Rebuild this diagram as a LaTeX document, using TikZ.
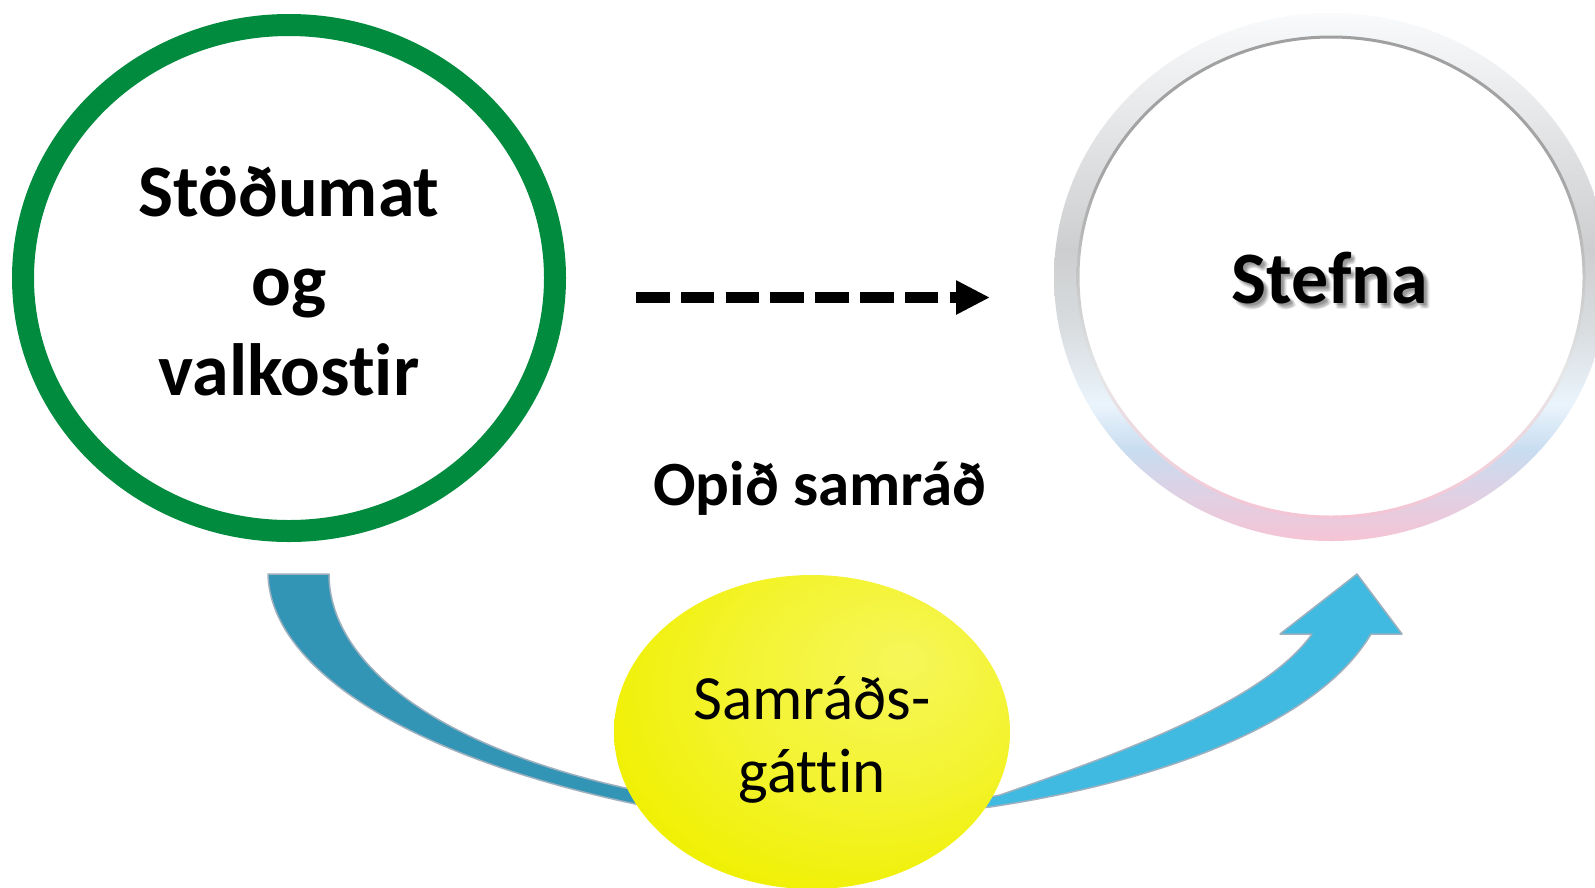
\documentclass[tikz,border=0pt]{standalone}
\usepackage{fontspec}
\setmainfont{Carlito}[Ligatures={NoCommon}]
\usetikzlibrary{shapes.geometric,arrows.meta}
\definecolor{greenring}{RGB}{0,139,62}
\definecolor{bandL}{RGB}{50,149,181}
\definecolor{bandR}{RGB}{64,186,224}
\definecolor{bandedge}{RGB}{158,176,190}
\definecolor{yhi}{RGB}{246,246,90}
\definecolor{ymid}{RGB}{240,240,0}
\definecolor{ylo}{RGB}{227,227,0}
\definecolor{rtop}{RGB}{249,250,251}
\definecolor{rgreyl}{RGB}{230,231,232}
\definecolor{rgrey}{RGB}{205,206,207}
\definecolor{rgreyb}{RGB}{217,221,224}
\definecolor{rice}{RGB}{234,244,252}
\definecolor{rblue}{RGB}{200,220,240}
\definecolor{rlav}{RGB}{220,210,230}
\definecolor{rpink}{RGB}{245,196,212}
\pgfdeclareverticalshading{ringshade}{100bp}{color(0bp)=(rpink); color(25bp)=(rpink); color(30bp)=(rlav); color(33.5bp)=(rblue); color(38bp)=(rice); color(45bp)=(rgreyb); color(52.5bp)=(rgrey); color(65bp)=(rgreyl); color(75bp)=(rtop); color(100bp)=(rtop)}
\pgfdeclareverticalshading{innershade}{100bp}{color(0bp)=(rpink); color(25bp)=(rpink); color(40bp)=(rgreyl); color(60bp)=(gray!70); color(75bp)=(gray!75); color(100bp)=(gray!75)}
\pgfdeclareradialshading{yellowglow}{\pgfpoint{12bp}{12bp}}{color(0bp)=(yhi); color(18bp)=(yhi!55!ymid); color(34bp)=(ymid); color(60bp)=(ylo)}
\begin{document}
\begin{tikzpicture}[x=1pt,y=-1pt,
  every node/.style={inner sep=0pt, outer sep=0pt},
  bandstyle/.style={draw=bandedge, line width=1.5pt, line join=round},
  bigtext/.style={font=\bfseries\fontsize{74}{89.5}\selectfont, align=center},
  softshadow/.style={bigtext, anchor=base, text=black, opacity=0.07}]
\useasboundingbox (0,0) rectangle (1595,887);
\fill[white] (0,0) rectangle (1595,887);
\clip (0,0) rectangle (1595,887);

% curved bands
\path[bandstyle, fill=bandL] (268,574) .. controls (270,665) and (400,755) .. (640,805) -- (720,815) -- (720,795) -- (630,789) .. controls (430,745) and (329,660) .. (329,574) -- cycle;
\path[bandstyle, fill=bandR] (900,815) -- (990,807) .. controls (1170,780) and (1320,720) .. (1371,634) -- (1402,634) -- (1357,574) -- (1280,634) -- (1312,634) .. controls (1265,700) and (1130,750) .. (1000,795) -- (900,815) -- cycle;

% yellow portal
\node[ellipse, minimum width=396pt, minimum height=314pt, shade, shading=yellowglow] (portal) at (812,732) {};
\node[font=\fontsize{63}{73}\selectfont, align=center] (portaltext) at (812,740) {Samráðs-\\gáttin};

% green circle
\node[ellipse, draw=greenring, line width=22pt, minimum width=532pt, minimum height=506pt] (sit) at (289,278) {};
\node[bigtext] (sittext) at (289,281) {Stöðumat\\og\\valkostir};

% Stefna ring
\node[ellipse, minimum width=531pt, minimum height=505pt] (stefna) at (1331,277) {};
\path[shading=ringshade, even odd rule] (stefna.center) ellipse[x radius=277pt, y radius=264pt] (stefna.center) ellipse[x radius=254pt, y radius=241pt];
\path[shading=innershade, even odd rule] (stefna.center) ellipse[x radius=254.5pt, y radius=241.5pt] (stefna.center) ellipse[x radius=251.5pt, y radius=238.5pt];
\foreach \dx/\dy [count=\i] in {1.5/2.5, 3/3.5, 4.5/4.5, 2.5/5, 4/2.5, 3.5/6, 5.5/5.5} {
  \node[softshadow] (stefnashadow\i) at (1330+\dx,303+\dy) {Stefna};
}
\node[bigtext, anchor=base] (stefnatext) at (1330,303) {Stefna};

% dashed arrow
\coordinate (dashA) at (636,297.5);
\coordinate (dashB) at (990,297.5);
\draw[line width=10.5pt, dash pattern=on 33.5pt off 11.3pt, -{Triangle[length=34pt, width=32pt]}] (dashA) -- (dashB);

% label
\node[font=\bfseries\fontsize{63}{70}\selectfont, anchor=base] (opid) at (820,505) {Opið samráð};
\end{tikzpicture}
\end{document}
